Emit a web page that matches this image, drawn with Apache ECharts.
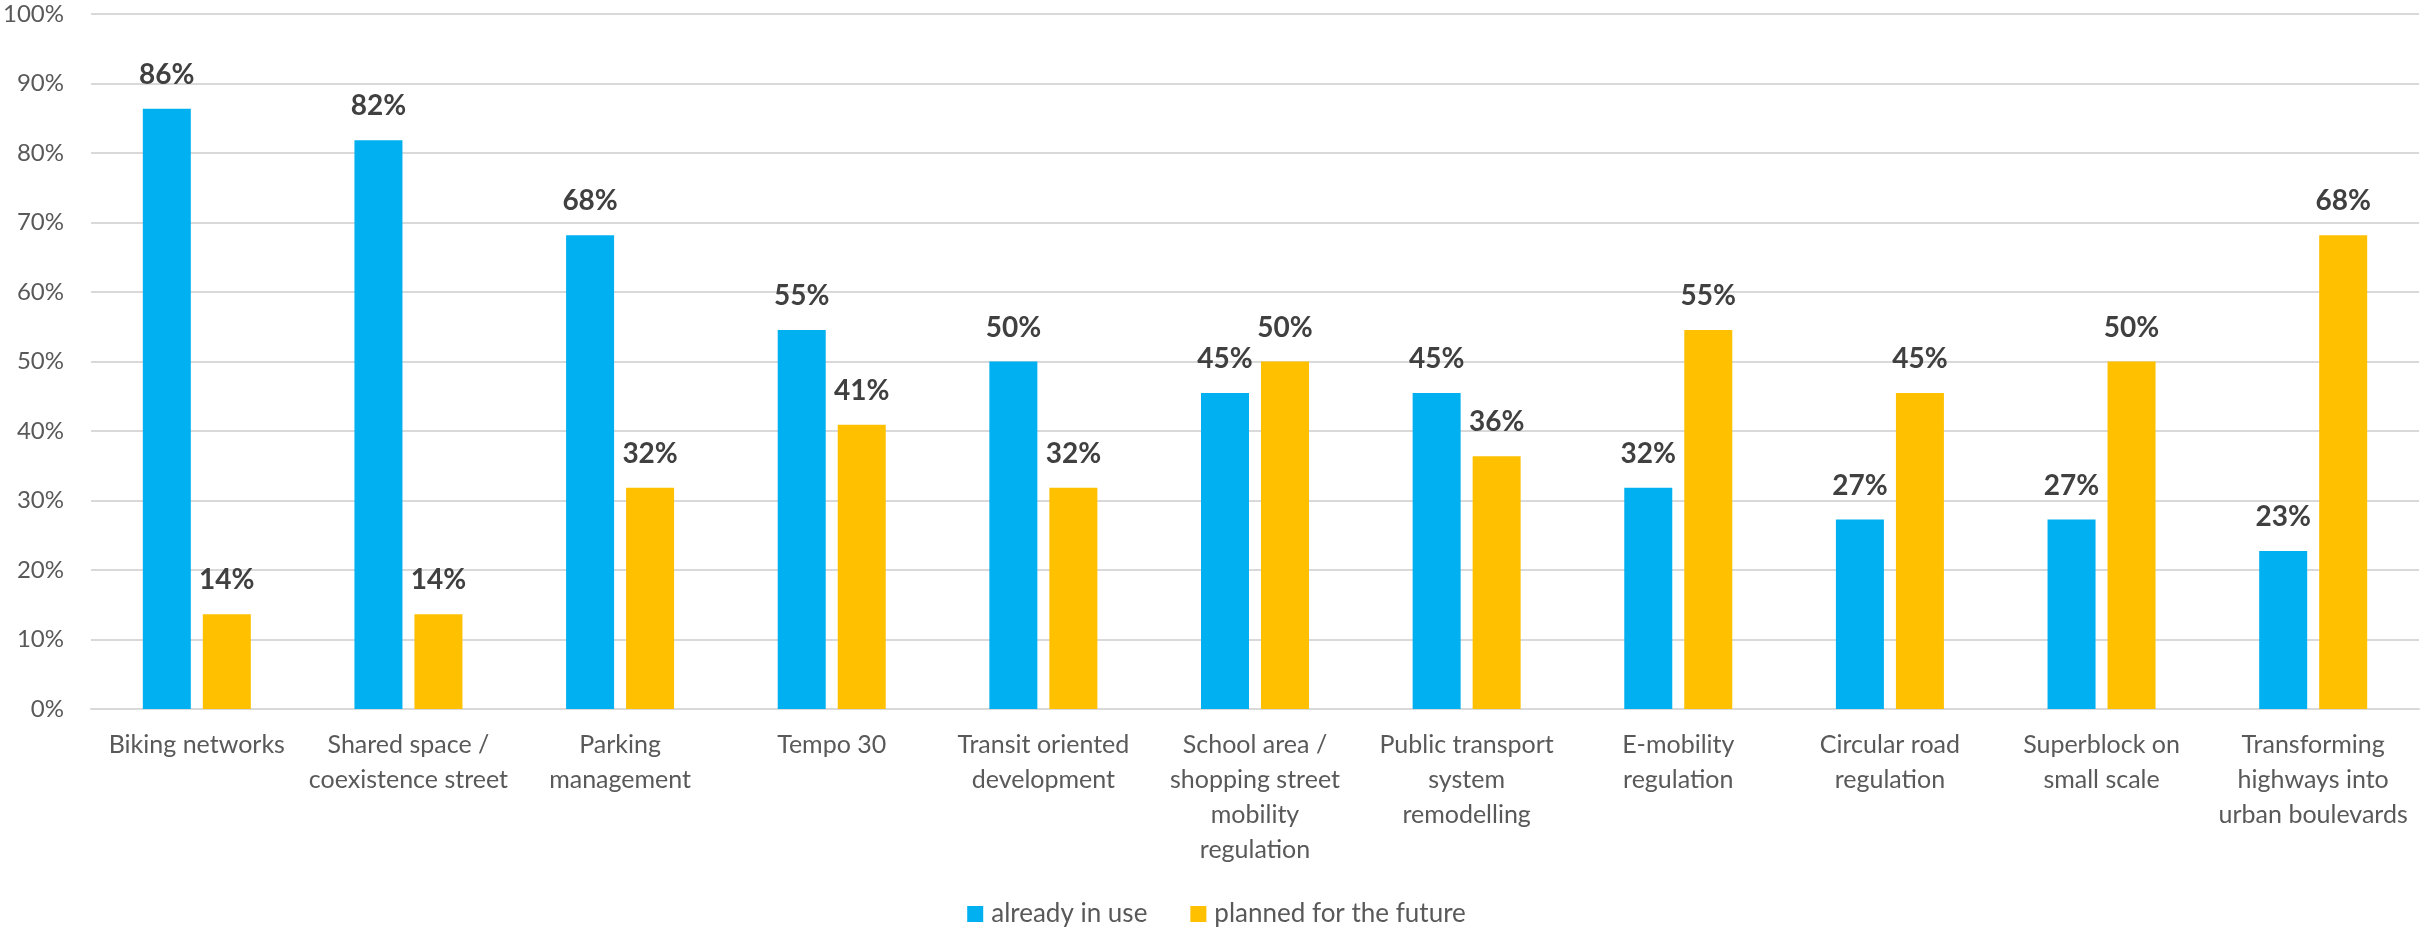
<!DOCTYPE html>
<html>
<head>
<meta charset="utf-8">
<script src="https://cdn.jsdelivr.net/npm/echarts@6/dist/echarts.min.js"></script>
<style>
html,body{margin:0;padding:0;background:#fff;}
#chart{width:2433px;height:930px;}
</style>
</head>
<body>
<div id="chart"></div>
<script>
const categories = [
  "Biking networks",
  "Shared space /\ncoexistence street",
  "Parking\nmanagement",
  "Tempo 30",
  "Transit oriented\ndevelopment",
  "School area /\nshopping street\nmobility\nregulation",
  "Public transport\nsystem\nremodelling",
  "E-mobility\nregulation",
  "Circular road\nregulation",
  "Superblock on\nsmall scale",
  "Transforming\nhighways into\nurban boulevards"
];
const alreadyInUse = [86.36, 81.82, 68.18, 54.55, 50.0, 45.45, 45.45, 31.82, 27.27, 27.27, 22.73];
const plannedForFuture = [13.64, 13.64, 31.82, 40.91, 31.82, 50.0, 36.36, 54.55, 45.45, 50.0, 68.18];
const seriesNames = ["already in use", "planned for the future"];
const yTickMax = 100;
const yTickStep = 10;

const FONT = "Lato, 'Noto Sans', sans-serif";
const chart = echarts.init(document.getElementById('chart'), null, {renderer: 'canvas'});
const labelCfg = {
  show: true,
  position: 'top',
  distance: 20,
  fontFamily: FONT,
  fontWeight: 'bold',
  fontSize: 28,
  color: '#404040',
  formatter: p => Math.round(p.value) + '%'
};
chart.setOption({
  animation: false,
  backgroundColor: '#ffffff',
  textStyle: {fontFamily: FONT},
  grid: {left: 90, right: 14, top: 14, bottom: 221, containLabel: false},
  legend: {
    data: seriesNames,
    top: 896,
    left: 'center',
    itemWidth: 16,
    itemHeight: 16,
    itemGap: 43,
    icon: 'rect',
    textStyle: {fontFamily: FONT, fontSize: 26, color: '#595959', padding: [0, 0, 0, 3]}
  },
  xAxis: {
    type: 'category',
    data: categories,
    axisLine: {show: true, lineStyle: {color: '#D9D9D9', width: 2}},
    axisTick: {show: false},
    axisLabel: {
      interval: 0,
      margin: 18,
      fontFamily: FONT,
      fontSize: 25,
      lineHeight: 35,
      color: '#595959',
      verticalAlign: 'top'
    }
  },
  yAxis: {
    type: 'value',
    min: 0,
    max: yTickMax,
    interval: yTickStep,
    axisLine: {show: false},
    axisTick: {show: false},
    splitLine: {lineStyle: {color: '#D9D9D9', width: 2}},
    axisLabel: {
      margin: 27,
      fontFamily: FONT,
      fontSize: 24,
      color: '#595959',
      formatter: v => v + '%'
    }
  },
  series: [
    {
      name: seriesNames[0],
      type: 'bar',
      data: alreadyInUse,
      barWidth: 48,
      barGap: '25%',
      itemStyle: {color: '#00B0F0'},
      label: labelCfg
    },
    {
      name: seriesNames[1],
      type: 'bar',
      data: plannedForFuture,
      barWidth: 48,
      barGap: '25%',
      itemStyle: {color: '#FFC000'},
      label: labelCfg
    }
  ]
});
</script>
</body>
</html>
